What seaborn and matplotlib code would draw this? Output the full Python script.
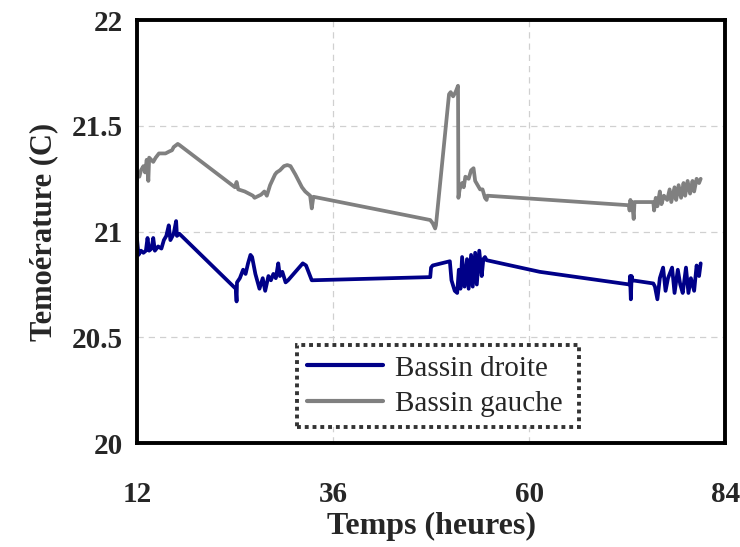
import pandas as pd
import matplotlib
matplotlib.use("Agg")
import matplotlib.pyplot as plt
import seaborn as sns

# Bassin droite (blue) - time in hours, temperature in C
t_droite = [12.0, 12.2, 12.5, 12.8, 13.1, 13.3, 13.5, 13.8, 14.0, 14.2, 14.6, 15.0, 15.3, 15.6,
            15.9, 16.1, 16.5, 16.8, 16.9, 17.2,
            24.1, 24.2, 24.25, 24.6, 25.0, 25.3, 25.6, 25.9, 26.1, 26.5, 27.0, 27.4, 27.7,
            28.1, 28.4, 28.7, 29.0, 29.3, 29.5, 29.8, 30.2, 30.5, 31.4, 32.3, 32.7, 33.2, 33.4,
            47.9, 48.0, 48.2, 50.3, 50.5, 50.9, 51.2, 51.4, 51.6, 51.8, 52.1, 52.4, 52.6, 52.9,
            53.1, 53.4, 53.6, 53.9, 54.2, 54.4, 54.6, 54.8,
            61.3, 72.3, 72.35, 72.45, 72.55, 72.6, 75.2, 75.4, 75.7, 76.0, 76.4, 76.7, 77.0,
            77.5, 77.8, 78.2, 78.5, 78.8, 79.2, 79.5, 79.8, 80.2, 80.5, 80.8, 81.0]
temp_droite = [20.97, 20.89, 20.91, 20.90, 20.91, 20.97, 20.91, 20.92, 20.97, 20.91, 20.93, 20.92, 20.96, 20.98,
               21.03, 20.96, 20.99, 21.05, 20.98, 20.99,
               20.73, 20.67, 20.76, 20.78, 20.82, 20.80, 20.85, 20.89, 20.88, 20.80, 20.73, 20.78, 20.72,
               20.79, 20.77, 20.80, 20.78, 20.85, 20.79, 20.81, 20.76, 20.77, 20.81, 20.85, 20.84, 20.79, 20.77,
               20.785, 20.83, 20.84, 20.86, 20.77, 20.72, 20.71, 20.82, 20.73, 20.88, 20.74, 20.87, 20.73, 20.89,
               20.74, 20.90, 20.75, 20.91, 20.79, 20.87, 20.88, 20.865,
               20.81, 20.75, 20.79, 20.68, 20.79, 20.77, 20.755, 20.74, 20.68, 20.78, 20.83, 20.72, 20.78,
               20.83, 20.71, 20.82, 20.75, 20.71, 20.83, 20.71, 20.78, 20.72, 20.84, 20.79, 20.85]

# Bassin gauche (grey)
t_gauche = [12.0, 12.1, 12.3, 12.5, 12.8, 13.0, 13.2, 13.4, 13.5, 14.0, 14.3, 14.7, 15.0, 15.5,
            16.0, 16.3, 16.5, 17.0, 17.2,
            24.0, 24.2, 24.4, 25.2, 25.7, 26.2, 26.4, 27.2, 27.6, 27.9, 28.3, 28.9, 29.1, 29.5,
            30.0, 30.4, 30.8, 31.4, 32.2, 32.6, 33.2, 33.4, 33.6,
            47.9, 48.2, 48.5, 48.6, 50.2, 50.4, 50.7, 51.0, 51.3, 51.35, 51.5, 51.8, 52.0, 52.2,
            52.6, 52.9, 53.2, 53.4, 53.7, 54.0, 54.3, 54.6, 54.8, 54.9,
            72.2, 72.3, 72.4, 72.5, 72.6, 72.7, 72.8, 72.9, 75.2, 75.3, 75.5, 75.7, 76.0, 76.2,
            76.5, 76.9, 77.2, 77.4, 77.8, 78.0, 78.3, 78.6, 78.9, 79.1, 79.4, 79.7, 80.0, 80.2,
            80.5, 80.8, 81.0]
temp_gauche = [21.24, 21.28, 21.26, 21.29, 21.31, 21.28, 21.34, 21.24, 21.35, 21.33, 21.35, 21.37, 21.37, 21.37,
               21.38, 21.385, 21.40, 21.415, 21.41,
               21.21, 21.235, 21.20, 21.19, 21.18, 21.17, 21.16, 21.175, 21.19, 21.17, 21.22, 21.27, 21.28, 21.29,
               21.31, 21.315, 21.31, 21.27, 21.21, 21.19, 21.17, 21.11, 21.165,
               21.055, 21.04, 21.015, 21.03, 21.65, 21.66, 21.64, 21.66, 21.69, 21.16, 21.20, 21.23, 21.21, 21.26,
               21.25, 21.29, 21.30, 21.24, 21.22, 21.20, 21.20, 21.16, 21.15, 21.17,
               21.125, 21.10, 21.15, 21.11, 21.14, 21.10, 21.06, 21.14, 21.14, 21.10, 21.16, 21.12, 21.19, 21.13,
               21.17, 21.15, 21.20, 21.14, 21.21, 21.15, 21.22, 21.16, 21.23, 21.17, 21.24, 21.18, 21.24, 21.19,
               21.25, 21.23, 21.25]

series_names = ["Bassin droite", "Bassin gauche"]
colors = ["#000088", "#808080"]

df = pd.concat([
    pd.DataFrame({"temps": t_droite, "temp": temp_droite, "serie": series_names[0]}),
    pd.DataFrame({"temps": t_gauche, "temp": temp_gauche, "serie": series_names[1]}),
], ignore_index=True)

sns.set_style("white")
plt.rcParams["font.family"] = ["Liberation Serif", "DejaVu Serif"]

fig = plt.figure(figsize=(7.4, 5.47), dpi=100)
ax = fig.add_axes([0.185, 0.19, 0.795, 0.773])

sns.lineplot(data=df, x="temps", y="temp", hue="serie", palette=colors,
             estimator=None, sort=False, linewidth=2.7, ax=ax)

ax.set_xlim(12, 84)
ax.set_ylim(20, 22)
ax.set_xticks([12, 36, 60, 84])
ax.set_yticks([20, 20.5, 21, 21.5, 22])
ax.set_yticklabels(["20", "20.5", "21", "21.5", "22"])
ax.grid(True, linestyle=(0, (5, 4)), color="#d0d0d0", linewidth=0.9)
for s in ax.spines.values():
    s.set_color("black")
    s.set_linewidth(2.8)
ax.tick_params(axis="both", direction="out", length=6, width=0.9, color="#808080")
ax.tick_params(axis="y", pad=4)
ax.tick_params(axis="x", pad=21)
for lab in ax.get_xticklabels() + ax.get_yticklabels():
    lab.set_fontweight("bold")
    lab.set_fontsize(21)

ax.set_xlabel("Temps (heures)", fontsize=23, fontweight="bold", labelpad=3)
ax.set_ylabel("Temoérature (C)", fontsize=22, fontweight="bold", labelpad=10)

leg = ax.legend(loc="lower left", bbox_to_anchor=(0.272, 0.038, 0.48, 0.25), mode="expand",
                fontsize=21, frameon=True, fancybox=False, handlelength=2.6, handletextpad=0.4,
                borderaxespad=0, labelspacing=0.3, borderpad=0.35)
frame = leg.get_frame()
frame.set_edgecolor("#333333")
frame.set_linewidth(2.8)
frame.set_linestyle((0, (1, 1)))
frame.set_alpha(1)
for line in leg.get_lines():
    line.set_linewidth(3)

fig.savefig("out.png", dpi=100)
